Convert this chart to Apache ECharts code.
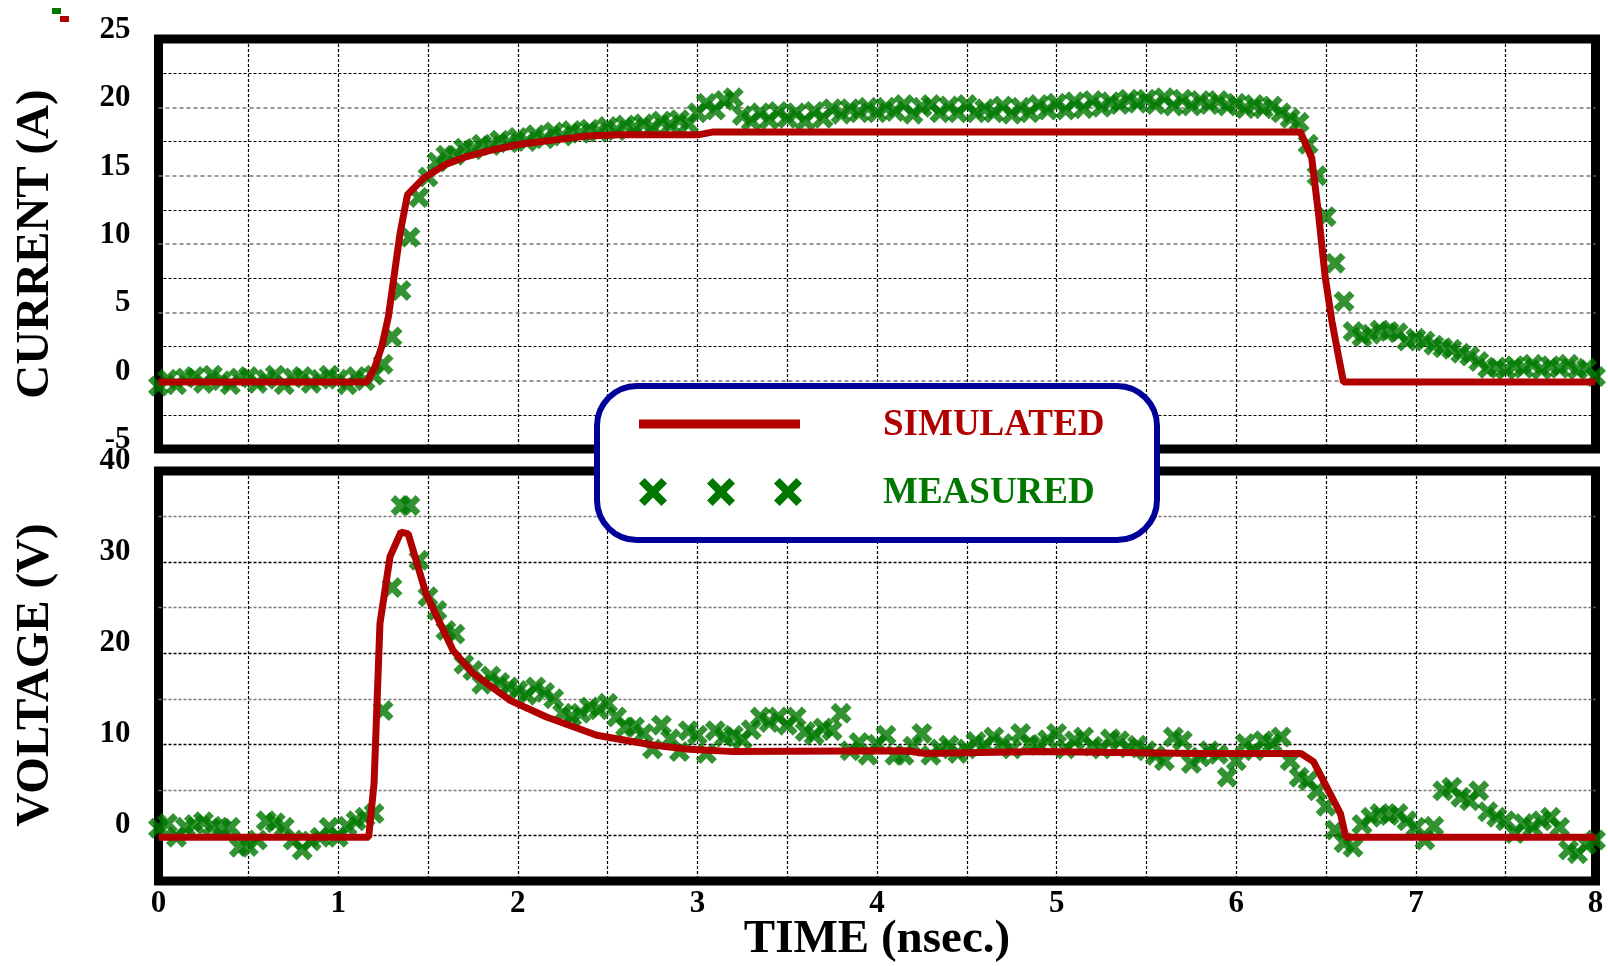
<!DOCTYPE html>
<html>
<head>
<meta charset="utf-8">
<script src="https://cdn.jsdelivr.net/npm/echarts@6/dist/echarts.min.js"></script>
<style>
  html, body { margin: 0; padding: 0; background: #ffffff; }
  #chart { width: 1608px; height: 966px; }
</style>
</head>
<body>
<div id="chart"></div>
<script>
// ---- data -------------------------------------------------------------
// Measured samples are taken every SAMPLE_STEP ns starting at t = 0.
const SAMPLE_STEP = 0.05;

// Measured current (A), one row per 0.5 ns
const measuredCurrent = [
  -0.4, 0.1, -0.3, 0.2, 0.3, -0.2, 0.4, 0.0, -0.3, 0.2,
  0.3, -0.2, 0.1, 0.4, -0.3, 0.2, 0.3, -0.2, 0.1, 0.4,
  0.1, -0.3, 0.3, 0.0, 0.4, 1.2, 3.2, 6.6, 10.5, 13.4,
  14.9, 16.0, 16.5, 16.5, 17.0, 16.9, 17.3, 17.2, 17.6, 17.4,
  17.8, 17.5, 18.0, 17.7, 18.2, 17.9, 18.3, 18.1, 18.4, 18.2,
  18.6, 18.3, 18.7, 18.5, 18.8, 18.5, 19.0, 18.7, 19.1, 18.8,
  19.6, 20.3, 19.8, 20.5, 20.7, 19.4, 19.0, 19.6, 19.1, 19.7,
  19.2, 19.6, 19.0, 19.7, 19.2, 19.9, 19.5, 19.9, 19.6, 20.0,
  19.6, 20.0, 19.7, 20.2, 19.5, 20.0, 20.2, 19.6, 20.1, 19.6,
  20.2, 19.6, 19.9, 19.6, 20.1, 19.5, 20.0, 19.6, 20.2, 19.8,
  20.3, 19.8, 20.4, 19.9, 20.5, 20.0, 20.4, 20.2, 20.6, 20.3,
  20.6, 20.2, 20.7, 20.1, 20.6, 20.1, 20.5, 20.2, 20.5, 20.1,
  20.3, 19.9, 20.2, 19.9, 20.1, 19.6, 19.2, 18.9, 17.3, 15.0,
  12.0, 8.6, 5.8, 3.6, 3.2, 3.4, 3.7, 3.6, 3.5, 2.9,
  3.1, 2.9, 2.6, 2.4, 2.3, 2.0, 1.8, 1.4, 0.9, 1.0,
  0.8, 1.1, 0.9, 1.2, 0.8, 1.1, 0.9, 1.2, 0.8, 0.9,
  0.3
];

// Measured voltage (V), one row per 0.5 ns
const measuredVoltage = [
  0.8, 1.3, -0.2, 0.9, 1.2, 1.5, 1.0, 0.8, 0.9, -1.3,
  -1.2, -0.5, 1.6, 1.4, 0.9, -0.5, -1.6, -0.6, -0.2, 0.9,
  -0.2, 1.0, 1.6, 2.0, 2.4, 13.7, 27.2, 36.2, 36.2, 30.2,
  26.2, 24.7, 22.5, 22.1, 18.8, 18.1, 16.6, 17.5, 16.8, 16.3,
  15.9, 15.4, 16.3, 15.7, 15.0, 13.4, 13.0, 13.4, 14.1, 13.8,
  14.5, 13.0, 11.9, 11.9, 11.2, 9.5, 12.1, 10.6, 9.2, 11.5,
  11.0, 9.0, 11.5, 10.8, 11.0, 10.5, 11.6, 13.0, 12.4, 13.0,
  12.1, 13.0, 11.4, 11.0, 11.8, 11.5, 13.4, 9.3, 10.2, 8.8,
  10.0, 11.0, 8.8, 8.8, 9.8, 11.2, 8.8, 9.5, 9.9, 9.0,
  9.5, 10.3, 9.9, 10.8, 10.1, 9.5, 11.2, 10.0, 9.9, 10.5,
  11.2, 9.5, 10.4, 10.8, 9.8, 9.5, 10.6, 10.4, 9.6, 9.9,
  9.3, 8.8, 8.2, 10.8, 10.4, 7.9, 8.6, 9.3, 8.9, 6.4,
  8.2, 10.1, 9.3, 10.4, 10.1, 10.8, 8.2, 6.4, 6.0, 4.9,
  3.2, 0.6, -0.8, -1.3, 1.2, 2.0, 2.4, 2.2, 2.4, 1.6,
  0.9, -0.5, 1.0, 4.9, 5.3, 4.2, 3.8, 4.9, 2.6, 2.0,
  1.6, 0.2, 1.3, 0.9, 1.6, 2.0, 0.9, -1.6, -2.0, -1.0,
  -0.5
];

// Simulated current: breakpoints (ns) and values (A)
const simCurrentTime = [0, 1.16, 1.205, 1.243, 1.28, 1.311, 1.345, 1.386, 1.475, 1.595,
  1.716, 1.864, 2.013, 2.198, 2.384, 2.57, 3.01, 3.09, 6.357, 6.42, 6.458, 6.495, 6.532,
  6.569, 6.597, 8];
const simCurrent = [-0.1, -0.1, 1.0, 2.5, 4.7, 7.6, 10.8, 13.6, 14.8, 15.8,
  16.4, 16.9, 17.3, 17.6, 17.9, 18.0, 18.0, 18.2, 18.2, 16.3, 12.2, 7.6, 4.4,
  1.8, -0.1, -0.1];

// Simulated voltage: breakpoints (ns) and values (V)
const simVoltageTime = [0, 1.17, 1.2, 1.233, 1.289, 1.35, 1.39, 1.49, 1.64, 1.75,
  1.96, 2.16, 2.44, 2.67, 2.76, 2.93, 3.2, 4.16, 4.27, 4.9, 5.78, 6.36, 6.43, 6.58,
  6.61, 8];
const simVoltage = [-0.2, -0.2, 5.7, 23.3, 30.6, 33.3, 33.1, 26.5, 20.3, 17.8,
  14.8, 13.0, 11.0, 10.2, 9.9, 9.5, 9.2, 9.3, 9.0, 9.2, 9.0, 9.0, 8.1, 2.4,
  -0.2, -0.2];

// Axis ranges
const timeRange = [0, 8];
const currentRange = [-5, 25];
const voltageRange = [-5, 40];

// Titles
const currentTitle = 'CURRENT (A)';
const voltageTitle = 'VOLTAGE (V)';
const timeTitle = 'TIME (nsec.)';
const legendNames = ['SIMULATED', 'MEASURED'];

// ---- styling ----------------------------------------------------------
const RED = '#b00000';
const GREEN = '#007800';
const NAVY = '#000099';
const SERIF = '"Liberation Serif", "Times New Roman", serif';
const X_PATH = 'path://M0,2.3L2.3,0L5,2.7L7.7,0L10,2.3L7.3,5L10,7.7L7.7,10L5,7.3L2.3,10L0,7.7L2.7,5Z';

const pairs = (xs, ys) => ys.map((v, i) => [xs[i], v]);
const sampled = ys => ys.map((v, i) => [+(i * SAMPLE_STEP).toFixed(2), v]);

const blackDash = { color: '#000', width: 1.2, type: [3, 2] };
const grayDash = { color: '#777', width: 1.6, type: [4, 3] };

const tickLabel = {
  color: '#000', fontSize: 31, fontWeight: 'bold', fontFamily: SERIF
};

function xAxisFor(gridIndex, showLabels) {
  return {
    type: 'value', gridIndex, min: timeRange[0], max: timeRange[1], interval: 1,
    axisLine: { show: false }, axisTick: { show: false },
    axisLabel: Object.assign({ show: showLabels, margin: 7 }, tickLabel),
    splitLine: { show: true, showMinLine: false, showMaxLine: false, lineStyle: blackDash },
    minorTick: { show: false, splitNumber: 2 },
    minorSplitLine: { show: true, lineStyle: blackDash }
  };
}

const chart = echarts.init(document.getElementById('chart'), null, { renderer: 'canvas' });

// X-shaped marker for the legend, centred on (cx, cy)
function crossPoints(cx, cy, size) {
  const base = [[0,2],[2,0],[5,3],[8,0],[10,2],[7,5],[10,8],[8,10],[5,7],[2,10],[0,8],[3,5]];
  const k = size / 10;
  return base.map(p => [cx + (p[0] - 5) * k, cy + (p[1] - 5) * k]);
}

const option = {
  backgroundColor: '#ffffff',
  animation: false,
  grid: [
    { left: 158.5, right: 12.5, top: 39, height: 410, show: true,
      backgroundColor: '#fff', borderColor: '#000', borderWidth: 9, outerBoundsMode: 'none' },
    { left: 158.5, right: 12.5, top: 471, height: 410, show: true,
      backgroundColor: '#fff', borderColor: '#000', borderWidth: 9, outerBoundsMode: 'none' }
  ],
  xAxis: [xAxisFor(0, false), xAxisFor(1, true)],
  yAxis: [
    {
      type: 'value', gridIndex: 0, min: currentRange[0], max: currentRange[1], interval: 5,
      axisLine: { show: false }, axisTick: { show: false },
      axisLabel: Object.assign({ margin: 28, verticalAlign: 'bottom', lineHeight: 18 }, tickLabel),
      splitLine: { show: true, showMinLine: false, showMaxLine: false, lineStyle: grayDash },
      minorTick: { show: false, splitNumber: 2 },
      minorSplitLine: { show: true, lineStyle: blackDash }
    },
    {
      type: 'value', gridIndex: 1, min: voltageRange[0], max: voltageRange[1], interval: 5,
      axisLine: { show: false }, axisTick: { show: false },
      axisLabel: Object.assign({
        margin: 28, verticalAlign: 'bottom', lineHeight: 20,
        formatter: v => (v >= 0 && v % 10 === 0) ? String(v) : ''
      }, tickLabel),
      splitLine: {
        show: true, showMinLine: false, showMaxLine: false,
        lineStyle: { color: ['#000', '#777'], width: 1.3, type: [3, 2] }
      }
    }
  ],
  series: [
    {
      name: legendNames[1], type: 'scatter', xAxisIndex: 0, yAxisIndex: 0,
      data: sampled(measuredCurrent), symbol: X_PATH, symbolSize: 21,
      itemStyle: { color: GREEN }, z: 2, clip: false
    },
    {
      name: legendNames[0], type: 'line', xAxisIndex: 0, yAxisIndex: 0,
      data: pairs(simCurrentTime, simCurrent), showSymbol: false, symbol: 'none',
      lineStyle: { color: RED, width: 7 }, z: 3
    },
    {
      name: legendNames[1], type: 'scatter', xAxisIndex: 1, yAxisIndex: 1,
      data: sampled(measuredVoltage), symbol: X_PATH, symbolSize: 21,
      itemStyle: { color: GREEN }, z: 2, clip: false
    },
    {
      name: legendNames[0], type: 'line', xAxisIndex: 1, yAxisIndex: 1,
      data: pairs(simVoltageTime, simVoltage), showSymbol: false, symbol: 'none',
      lineStyle: { color: RED, width: 7 }, z: 3
    }
  ],
  graphic: [
    // axis titles
    { type: 'text', x: 36, y: 244, rotation: Math.PI / 2, z: 10,
      style: { text: currentTitle, x: 0, y: 0, font: 'bold 47px ' + SERIF, fill: '#000',
        align: 'center', verticalAlign: 'middle', textAlign: 'center', textVerticalAlign: 'middle' } },
    { type: 'text', x: 36, y: 675, rotation: Math.PI / 2, z: 10,
      style: { text: voltageTitle, x: 0, y: 0, font: 'bold 47px ' + SERIF, fill: '#000',
        align: 'center', verticalAlign: 'middle', textAlign: 'center', textVerticalAlign: 'middle' } },
    { type: 'text', x: 877, y: 940, z: 10,
      style: { text: timeTitle, x: 0, y: 0, font: 'bold 47px ' + SERIF, fill: '#000',
        align: 'center', verticalAlign: 'middle', textAlign: 'center', textVerticalAlign: 'middle' } },
    // small colour swatches in the top-left corner
    { type: 'rect', z: 10, shape: { x: 52, y: 8, width: 9, height: 6 }, style: { fill: GREEN } },
    { type: 'rect', z: 10, shape: { x: 60, y: 16, width: 9, height: 6 }, style: { fill: RED } },
    // legend box
    { type: 'rect', z: 20,
      shape: { x: 597, y: 386, width: 560, height: 154, r: 40 },
      style: { fill: '#fff', stroke: NAVY, lineWidth: 6 } },
    { type: 'line', z: 21,
      shape: { x1: 639, y1: 424, x2: 800, y2: 424 },
      style: { stroke: RED, lineWidth: 9 } },
    { type: 'text', z: 21,
      style: { text: legendNames[0], x: 883, y: 425, font: 'bold 37px ' + SERIF, fill: RED,
        align: 'left', verticalAlign: 'middle', textAlign: 'left', textVerticalAlign: 'middle' } },
    { type: 'text', z: 21,
      style: { text: legendNames[1], x: 883, y: 493, font: 'bold 37px ' + SERIF, fill: GREEN,
        align: 'left', verticalAlign: 'middle', textAlign: 'left', textVerticalAlign: 'middle' } }
  ].concat([653, 721, 788].map(cx => ({
    type: 'polygon', z: 21,
    shape: { points: crossPoints(cx, 492, 28) },
    style: { fill: GREEN }
  })))
};

chart.setOption(option);
</script>
</body>
</html>
